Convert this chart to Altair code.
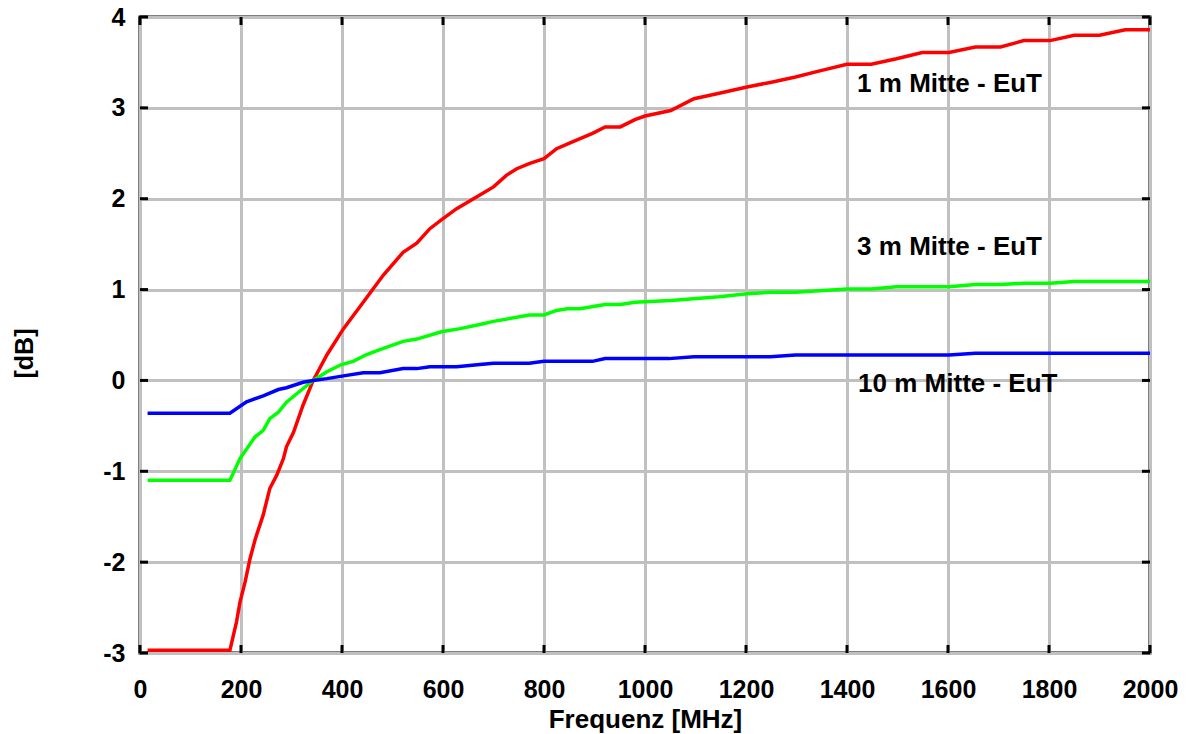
import altair as alt
import pandas as pd

# ---- data ----
red_f = [15, 178, 191, 198, 208, 218, 228, 244, 257, 271, 284, 290, 304, 323, 343, 370, 403, 442,
         482, 521, 548, 574, 600, 627, 673, 700, 726, 746, 772, 800, 825, 854, 896, 921, 951, 980,
         1000, 1051, 1097, 1147, 1202, 1248, 1298, 1348, 1400, 1448, 1498, 1549, 1602, 1654, 1704,
         1750, 1802, 1850, 1900, 1951, 2000]
red_v = [-2.97, -2.97, -2.66, -2.44, -2.22, -1.96, -1.75, -1.48, -1.19, -1.04, -0.86, -0.73, -0.57,
         -0.27, 0.0, 0.28, 0.57, 0.86, 1.16, 1.41, 1.51, 1.67, 1.78, 1.89, 2.04, 2.13, 2.26, 2.33,
         2.39, 2.44, 2.55, 2.62, 2.72, 2.79, 2.79, 2.87, 2.91, 2.97, 3.10, 3.16, 3.23, 3.28, 3.34,
         3.41, 3.48, 3.48, 3.54, 3.61, 3.61, 3.67, 3.67, 3.74, 3.74, 3.80, 3.80, 3.86, 3.86]

green_f = [15, 178, 198, 228, 244, 257, 274, 290, 314, 343, 370, 399, 422, 449, 475, 521, 548, 597,
           634, 673, 700, 771, 800, 825, 846, 871, 921, 951, 980, 1051, 1147, 1202, 1248, 1298,
           1400, 1448, 1498, 1602, 1654, 1704, 1750, 1802, 1850, 2000]
green_v = [-1.10, -1.10, -0.86, -0.62, -0.55, -0.42, -0.35, -0.24, -0.13, 0.0, 0.095, 0.175, 0.21,
           0.285, 0.34, 0.43, 0.455, 0.535, 0.57, 0.615, 0.65, 0.72, 0.72, 0.77, 0.79, 0.79, 0.835,
           0.835, 0.86, 0.88, 0.92, 0.955, 0.97, 0.97, 1.005, 1.005, 1.03, 1.03, 1.055, 1.055,
           1.07, 1.07, 1.09, 1.09]

blue_f = [15, 178, 211, 244, 274, 290, 323, 343, 370, 403, 442, 475, 521, 548, 574, 627, 673, 700,
          771, 800, 896, 921, 1047, 1097, 1248, 1298, 1602, 1654, 2000]
blue_v = [-0.36, -0.36, -0.235, -0.17, -0.10, -0.08, -0.02, 0.0, 0.02, 0.05, 0.085, 0.085, 0.13,
          0.13, 0.15, 0.15, 0.175, 0.19, 0.19, 0.21, 0.21, 0.24, 0.24, 0.26, 0.26, 0.28, 0.28,
          0.30, 0.30]

series_names = ["1 m Mitte - EuT", "3 m Mitte - EuT", "10 m Mitte - EuT"]
series_colors = ["#ff0000", "#00ff00", "#0000ff"]

label_f = [1420, 1420, 1422]
label_v = [3.175, 1.382, -0.125]

x_ticks = [0, 200, 400, 600, 800, 1000, 1200, 1400, 1600, 1800, 2000]
y_ticks = [-3, -2, -1, 0, 1, 2, 3, 4]

# ---- tables ----
rows = []
for name, fs, vs in zip(series_names, [red_f, green_f, blue_f], [red_v, green_v, blue_v]):
    for i, (f, v) in enumerate(zip(fs, vs)):
        rows.append({"series": name, "f": f, "v": v, "i": i})
df = pd.DataFrame(rows)
df_lab = pd.DataFrame({"series": series_names, "f": label_f, "v": label_v})
df_xt = pd.DataFrame({"f": x_ticks})
df_yt = pd.DataFrame({"v": y_ticks})

W, H = 1010, 636
FONT = "Liberation Sans"
FS = 25

xscale = alt.Scale(domain=[0, 2000], nice=False, zero=False)
yscale = alt.Scale(domain=[-3, 4], nice=False, zero=False)

xaxis = alt.Axis(values=x_ticks, labelExpr="toString(datum.value)", grid=True, gridColor="#c0c0c0",
                 gridWidth=3, domain=False, ticks=False, labelFont=FONT, labelFontSize=FS,
                 labelFontWeight="bold", labelColor="black", labelBaseline="alphabetic",
                 labelPadding=44, labelFlush=False,
                 title="Frequenz [MHz]", titleFont=FONT, titleFontSize=26, titleFontWeight="bold",
                 titleColor="black", titleBaseline="alphabetic", titleY=74, titleX=W / 2)
yaxis = alt.Axis(values=y_ticks, labelExpr="toString(datum.value)", grid=True, gridColor="#c0c0c0",
                 gridWidth=3, domain=False, ticks=False, labelFont=FONT, labelFontSize=FS,
                 labelFontWeight="bold", labelColor="black", labelBaseline="middle",
                 labelPadding=15, labelFlush=False,
                 title="[dB]", titleFont=FONT, titleFontSize=FS, titleFontWeight="bold",
                 titleColor="black", titleAngle=270, titleBaseline="middle", titleAlign="center",
                 titleX=-116, titleY=336)

color = alt.Color("series:N", scale=alt.Scale(domain=series_names, range=series_colors), legend=None)

lines = alt.Chart(df).mark_line(strokeWidth=3.5, clip=True).encode(
    x=alt.X("f:Q", scale=xscale, axis=xaxis),
    y=alt.Y("v:Q", scale=yscale, axis=yaxis),
    color=color,
    order="i:Q",
)

labels = alt.Chart(df_lab).mark_text(align="left", baseline="alphabetic", font=FONT,
                                     fontSize=26, fontWeight="bold", color="black").encode(
    x=alt.X("f:Q", scale=xscale),
    y=alt.Y("v:Q", scale=yscale),
    text="series:N",
)

TL = 8
tick_style = dict(color="black", strokeWidth=3)
yt_left = alt.Chart(df_yt).mark_rule(**tick_style).encode(
    y=alt.Y("v:Q", scale=yscale), x=alt.value(0), x2=alt.value(TL))
yt_right = alt.Chart(df_yt).mark_rule(**tick_style).encode(
    y=alt.Y("v:Q", scale=yscale), x=alt.value(W - TL), x2=alt.value(W))
xt_bottom = alt.Chart(df_xt).mark_rule(**tick_style).encode(
    x=alt.X("f:Q", scale=xscale), y=alt.value(H - TL), y2=alt.value(H))
xt_top = alt.Chart(df_xt).mark_rule(**tick_style).encode(
    x=alt.X("f:Q", scale=xscale), y=alt.value(0), y2=alt.value(TL))

chart = alt.layer(lines, yt_left, yt_right, xt_bottom, xt_top, labels).properties(
    width=W, height=H,
    autosize=alt.AutoSizeParams(type="none"),
    padding={"left": 132, "top": 9, "right": 31, "bottom": 81},
    background="white",
).configure_view(stroke="black", strokeWidth=3)

chart.save("out.html", embed_options={"renderer": "svg", "actions": False})
